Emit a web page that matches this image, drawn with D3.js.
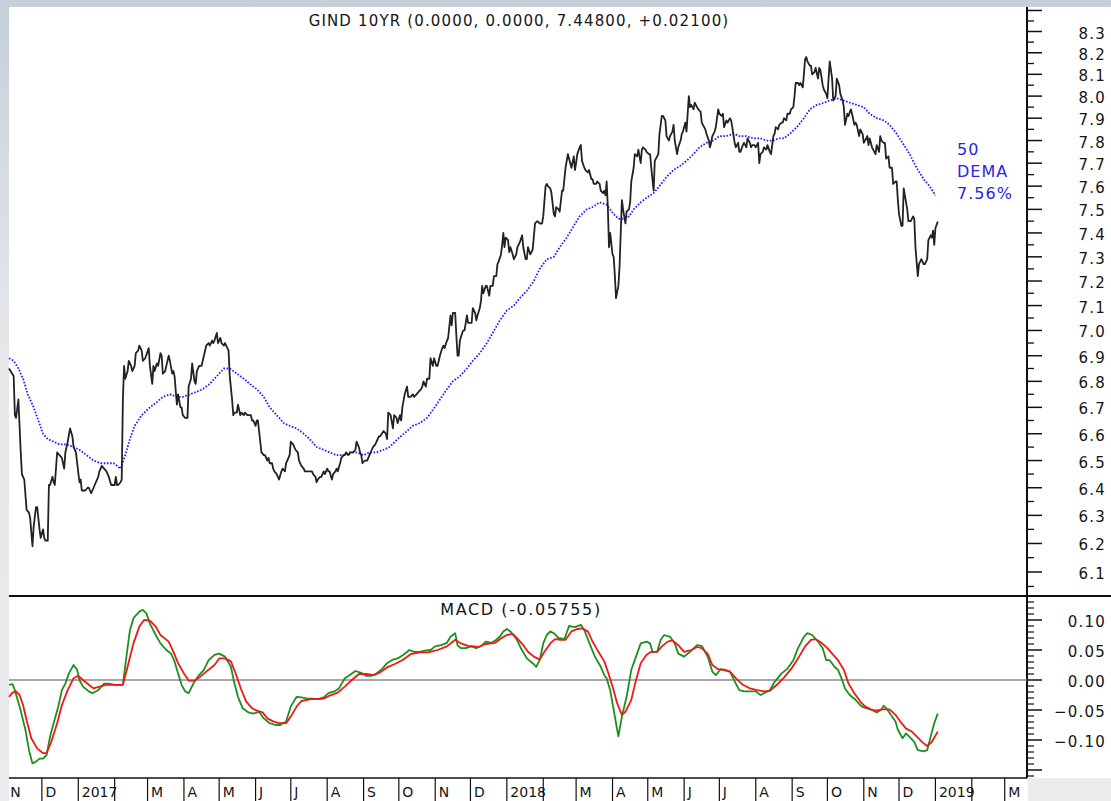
<!DOCTYPE html>
<html><head><meta charset="utf-8">
<script src="https://cdn.jsdelivr.net/npm/d3@7"></script>
<style>body{margin:0;background:#fff;}svg{display:block;}text{font-family:"DejaVu Sans",sans-serif;}</style>
</head><body><svg id="c" width="1111" height="801"></svg>
<script>
const priceData = [
["2016-11-03",6.85],["2016-11-07",6.82],["2016-11-08",6.67],["2016-11-09",6.66],["2016-11-11",6.73],["2016-11-13",6.53],["2016-11-14",6.45],["2016-11-16",6.43],["2016-11-18",6.32],["2016-11-20",6.31],["2016-11-21",6.29],["2016-11-23",6.19],["2016-11-24",6.26],["2016-11-26",6.33],["2016-11-27",6.33],["2016-11-29",6.25],["2016-11-30",6.22],["2016-12-02",6.25],["2016-12-03",6.22],["2016-12-04",6.21],["2016-12-06",6.21],["2016-12-07",6.41],["2016-12-08",6.41],["2016-12-10",6.44],["2016-12-11",6.42],["2016-12-12",6.41],["2016-12-14",6.53],["2016-12-16",6.52],["2016-12-18",6.51],["2016-12-20",6.47],["2016-12-21",6.53],["2016-12-23",6.57],["2016-12-25",6.62],["2016-12-27",6.59],["2016-12-28",6.55],["2016-12-30",6.53],
["2017-01-02",6.42],["2017-01-03",6.43],["2017-01-04",6.39],["2017-01-07",6.39],["2017-01-09",6.40],["2017-01-10",6.40],["2017-01-12",6.38],["2017-01-14",6.40],["2017-01-16",6.42],["2017-01-18",6.44],["2017-01-19",6.46],["2017-01-21",6.48],["2017-01-23",6.47],["2017-01-25",6.46],["2017-01-27",6.44],["2017-01-29",6.41],["2017-01-30",6.41],["2017-02-01",6.41],["2017-02-02",6.44],["2017-02-03",6.41],["2017-02-04",6.41],["2017-02-06",6.42],["2017-02-07",6.43],["2017-02-08",6.73],["2017-02-09",6.86],["2017-02-10",6.81],["2017-02-12",6.84],["2017-02-13",6.88],["2017-02-15",6.86],["2017-02-16",6.84],["2017-02-18",6.86],["2017-02-19",6.91],["2017-02-21",6.92],["2017-02-22",6.94],["2017-02-24",6.92],["2017-02-25",6.88],["2017-02-27",6.89],
["2017-03-02",6.93],["2017-03-03",6.86],["2017-03-05",6.79],["2017-03-06",6.86],["2017-03-07",6.84],["2017-03-09",6.87],["2017-03-10",6.86],["2017-03-12",6.91],["2017-03-13",6.90],["2017-03-14",6.83],["2017-03-16",6.84],["2017-03-17",6.86],["2017-03-19",6.90],["2017-03-20",6.88],["2017-03-22",6.83],["2017-03-23",6.84],["2017-03-24",6.82],["2017-03-26",6.71],["2017-03-27",6.75],["2017-03-29",6.70],["2017-03-30",6.70],["2017-03-31",6.67],
["2017-04-02",6.66],["2017-04-04",6.66],["2017-04-05",6.78],["2017-04-07",6.81],["2017-04-08",6.87],["2017-04-10",6.80],["2017-04-11",6.79],["2017-04-12",6.84],["2017-04-14",6.86],["2017-04-16",6.86],["2017-04-17",6.88],["2017-04-19",6.92],["2017-04-20",6.94],["2017-04-22",6.95],["2017-04-23",6.94],["2017-04-25",6.96],["2017-04-26",6.95],["2017-04-27",6.96],["2017-04-29",6.99],["2017-04-30",6.95],
["2017-05-02",6.97],["2017-05-03",6.95],["2017-05-05",6.94],["2017-05-06",6.95],["2017-05-07",6.94],["2017-05-09",6.92],["2017-05-10",6.82],["2017-05-12",6.73],["2017-05-13",6.67],["2017-05-14",6.68],["2017-05-16",6.68],["2017-05-17",6.71],["2017-05-19",6.67],["2017-05-20",6.68],["2017-05-22",6.67],["2017-05-23",6.68],["2017-05-25",6.67],["2017-05-26",6.67],["2017-05-28",6.67],["2017-05-29",6.65],["2017-05-30",6.65],
["2017-06-01",6.63],["2017-06-02",6.65],["2017-06-03",6.65],["2017-06-05",6.57],["2017-06-06",6.53],["2017-06-08",6.52],["2017-06-09",6.52],["2017-06-11",6.50],["2017-06-12",6.51],["2017-06-13",6.49],["2017-06-15",6.49],["2017-06-16",6.47],["2017-06-17",6.46],["2017-06-19",6.45],["2017-06-20",6.44],["2017-06-21",6.43],["2017-06-23",6.46],["2017-06-24",6.47],["2017-06-26",6.46],["2017-06-27",6.49],["2017-06-28",6.50],["2017-06-30",6.52],
["2017-07-01",6.57],["2017-07-03",6.56],["2017-07-04",6.55],["2017-07-05",6.54],["2017-07-07",6.53],["2017-07-08",6.50],["2017-07-09",6.49],["2017-07-10",6.48],["2017-07-12",6.47],["2017-07-13",6.46],["2017-07-15",6.46],["2017-07-16",6.46],["2017-07-17",6.46],["2017-07-19",6.46],["2017-07-20",6.45],["2017-07-22",6.44],["2017-07-23",6.42],["2017-07-24",6.43],["2017-07-26",6.44],["2017-07-27",6.44],["2017-07-29",6.46],["2017-07-30",6.45],
["2017-08-01",6.47],["2017-08-02",6.46],["2017-08-03",6.46],["2017-08-05",6.43],["2017-08-06",6.45],["2017-08-08",6.46],["2017-08-09",6.47],["2017-08-10",6.46],["2017-08-12",6.49],["2017-08-13",6.51],["2017-08-15",6.52],["2017-08-16",6.52],["2017-08-17",6.53],["2017-08-19",6.52],["2017-08-21",6.53],["2017-08-22",6.53],["2017-08-23",6.53],["2017-08-25",6.54],["2017-08-26",6.57],["2017-08-28",6.55],["2017-08-29",6.53],["2017-08-30",6.52],["2017-08-31",6.49],
["2017-09-02",6.50],["2017-09-04",6.50],["2017-09-05",6.51],["2017-09-06",6.52],["2017-09-08",6.54],["2017-09-09",6.55],["2017-09-11",6.56],["2017-09-12",6.57],["2017-09-14",6.59],["2017-09-15",6.59],["2017-09-18",6.61],["2017-09-20",6.60],["2017-09-21",6.58],["2017-09-22",6.68],["2017-09-24",6.67],["2017-09-26",6.62],["2017-09-27",6.67],["2017-09-29",6.66],["2017-09-30",6.64],
["2017-10-02",6.67],["2017-10-03",6.65],["2017-10-04",6.70],["2017-10-06",6.75],["2017-10-08",6.78],["2017-10-09",6.74],["2017-10-11",6.74],["2017-10-13",6.75],["2017-10-14",6.74],["2017-10-16",6.75],["2017-10-18",6.76],["2017-10-20",6.77],["2017-10-21",6.78],["2017-10-22",6.80],["2017-10-24",6.78],["2017-10-25",6.81],["2017-10-27",6.81],["2017-10-28",6.89],["2017-10-30",6.86],["2017-10-31",6.89],
["2017-11-02",6.86],["2017-11-03",6.86],["2017-11-05",6.90],["2017-11-07",6.93],["2017-11-08",6.94],["2017-11-09",6.93],["2017-11-11",6.96],["2017-11-12",6.97],["2017-11-14",7.06],["2017-11-15",7.02],["2017-11-16",7.07],["2017-11-18",7.07],["2017-11-19",6.98],["2017-11-20",6.90],["2017-11-21",6.90],["2017-11-22",6.96],["2017-11-24",6.99],["2017-11-25",7.00],["2017-11-26",7.00],["2017-11-27",7.03],["2017-11-28",7.06],["2017-11-29",7.03],["2017-11-30",7.03],
["2017-12-02",7.03],["2017-12-03",7.09],["2017-12-05",7.07],["2017-12-06",7.04],["2017-12-07",7.06],["2017-12-09",7.09],["2017-12-10",7.12],["2017-12-11",7.18],["2017-12-12",7.15],["2017-12-14",7.18],["2017-12-15",7.18],["2017-12-17",7.14],["2017-12-18",7.18],["2017-12-20",7.18],["2017-12-21",7.22],["2017-12-23",7.22],["2017-12-24",7.27],["2017-12-25",7.28],["2017-12-27",7.31],["2017-12-28",7.35],["2017-12-29",7.40],["2017-12-30",7.34],["2017-12-31",7.38],
["2018-01-02",7.37],["2018-01-03",7.32],["2018-01-04",7.34],["2018-01-06",7.31],["2018-01-07",7.29],["2018-01-09",7.31],["2018-01-10",7.34],["2018-01-12",7.36],["2018-01-14",7.39],["2018-01-15",7.34],["2018-01-17",7.29],["2018-01-18",7.29],["2018-01-19",7.34],["2018-01-21",7.31],["2018-01-23",7.33],["2018-01-25",7.44],["2018-01-27",7.45],["2018-01-29",7.44],["2018-01-31",7.44],
["2018-02-01",7.47],["2018-02-03",7.60],["2018-02-04",7.61],["2018-02-05",7.60],["2018-02-07",7.59],["2018-02-08",7.57],["2018-02-10",7.48],["2018-02-11",7.47],["2018-02-12",7.51],["2018-02-14",7.50],["2018-02-15",7.49],["2018-02-17",7.58],["2018-02-18",7.58],["2018-02-20",7.68],["2018-02-21",7.71],["2018-02-22",7.74],["2018-02-24",7.70],["2018-02-25",7.68],["2018-02-27",7.73],["2018-02-28",7.67],
["2018-03-01",7.70],["2018-03-02",7.74],["2018-03-04",7.77],["2018-03-05",7.78],["2018-03-06",7.71],["2018-03-08",7.68],["2018-03-09",7.67],["2018-03-11",7.66],["2018-03-12",7.67],["2018-03-14",7.63],["2018-03-15",7.63],["2018-03-16",7.61],["2018-03-18",7.61],["2018-03-19",7.62],["2018-03-21",7.61],["2018-03-22",7.58],["2018-03-24",7.57],["2018-03-25",7.58],["2018-03-26",7.56],["2018-03-27",7.62],["2018-03-28",7.51],["2018-03-29",7.34],["2018-03-30",7.40],
["2018-04-01",7.31],["2018-04-02",7.30],["2018-04-03",7.22],["2018-04-04",7.13],["2018-04-06",7.18],["2018-04-07",7.26],["2018-04-08",7.40],["2018-04-09",7.54],["2018-04-10",7.50],["2018-04-12",7.44],["2018-04-13",7.49],["2018-04-15",7.50],["2018-04-16",7.53],["2018-04-17",7.62],["2018-04-19",7.68],["2018-04-20",7.74],["2018-04-22",7.73],["2018-04-23",7.76],["2018-04-25",7.70],["2018-04-26",7.76],["2018-04-27",7.77],["2018-04-29",7.76],["2018-04-30",7.75],
["2018-05-02",7.74],["2018-05-03",7.74],["2018-05-04",7.68],["2018-05-06",7.58],["2018-05-07",7.71],["2018-05-09",7.73],["2018-05-10",7.74],["2018-05-11",7.83],["2018-05-13",7.91],["2018-05-14",7.91],["2018-05-16",7.89],["2018-05-17",7.82],["2018-05-19",7.80],["2018-05-20",7.82],["2018-05-22",7.84],["2018-05-23",7.87],["2018-05-24",7.80],["2018-05-26",7.74],["2018-05-27",7.77],["2018-05-29",7.80],["2018-05-30",7.83],["2018-05-31",7.84],
["2018-06-02",7.88],["2018-06-03",7.84],["2018-06-05",8.00],["2018-06-06",7.95],["2018-06-07",7.96],["2018-06-09",7.94],["2018-06-10",7.97],["2018-06-12",7.95],["2018-06-13",7.94],["2018-06-15",7.93],["2018-06-16",7.88],["2018-06-17",7.87],["2018-06-19",7.85],["2018-06-20",7.83],["2018-06-22",7.80],["2018-06-23",7.77],["2018-06-24",7.79],["2018-06-25",7.82],["2018-06-27",7.84],["2018-06-28",7.86],["2018-06-30",7.94],
["2018-07-01",7.92],["2018-07-03",7.91],["2018-07-04",7.92],["2018-07-05",7.86],["2018-07-07",7.89],["2018-07-08",7.88],["2018-07-10",7.90],["2018-07-11",7.89],["2018-07-12",7.86],["2018-07-14",7.79],["2018-07-15",7.77],["2018-07-17",7.79],["2018-07-18",7.75],["2018-07-19",7.75],["2018-07-21",7.78],["2018-07-22",7.79],["2018-07-24",7.77],["2018-07-25",7.81],["2018-07-27",7.79],["2018-07-28",7.77],["2018-07-29",7.78],["2018-07-31",7.78],
["2018-08-01",7.77],["2018-08-03",7.79],["2018-08-04",7.70],["2018-08-05",7.74],["2018-08-07",7.75],["2018-08-08",7.77],["2018-08-10",7.76],["2018-08-11",7.78],["2018-08-13",7.75],["2018-08-14",7.74],["2018-08-16",7.82],["2018-08-17",7.83],["2018-08-18",7.86],["2018-08-20",7.85],["2018-08-21",7.87],["2018-08-23",7.88],["2018-08-24",7.88],["2018-08-25",7.90],["2018-08-27",7.89],["2018-08-28",7.92],["2018-08-30",7.92],["2018-08-31",7.94],
["2018-09-02",7.95],["2018-09-03",8.00],["2018-09-04",8.06],["2018-09-06",8.06],["2018-09-07",8.05],["2018-09-08",8.06],["2018-09-10",8.04],["2018-09-11",8.10],["2018-09-12",8.17],["2018-09-13",8.18],["2018-09-14",8.16],["2018-09-16",8.14],["2018-09-17",8.14],["2018-09-18",8.10],["2018-09-20",8.11],["2018-09-21",8.13],["2018-09-23",8.08],["2018-09-24",8.13],["2018-09-25",8.12],["2018-09-27",8.05],["2018-09-28",8.03],["2018-09-30",8.01],
["2018-10-01",7.99],["2018-10-02",8.08],["2018-10-03",8.16],["2018-10-05",8.08],["2018-10-06",7.98],["2018-10-08",8.00],["2018-10-09",8.08],["2018-10-11",8.05],["2018-10-12",8.01],["2018-10-14",7.98],["2018-10-15",7.95],["2018-10-16",7.87],["2018-10-18",7.92],["2018-10-19",7.91],["2018-10-21",7.94],["2018-10-22",7.92],["2018-10-24",7.87],["2018-10-25",7.88],["2018-10-26",7.87],["2018-10-28",7.82],["2018-10-29",7.85],["2018-10-31",7.83],
["2018-11-01",7.79],["2018-11-02",7.80],["2018-11-04",7.82],["2018-11-05",7.78],["2018-11-06",7.81],["2018-11-08",7.77],["2018-11-09",7.76],["2018-11-11",7.74],["2018-11-12",7.78],["2018-11-14",7.75],["2018-11-15",7.82],["2018-11-16",7.80],["2018-11-18",7.79],["2018-11-19",7.79],["2018-11-20",7.72],["2018-11-22",7.73],["2018-11-23",7.68],["2018-11-25",7.68],["2018-11-26",7.61],["2018-11-28",7.62],["2018-11-29",7.62],["2018-11-30",7.54],
["2018-12-01",7.48],["2018-12-03",7.43],["2018-12-04",7.43],["2018-12-05",7.59],["2018-12-06",7.56],["2018-12-08",7.50],["2018-12-09",7.45],["2018-12-10",7.45],["2018-12-11",7.45],["2018-12-13",7.47],["2018-12-14",7.46],["2018-12-15",7.34],["2018-12-17",7.22],["2018-12-18",7.27],["2018-12-19",7.28],["2018-12-20",7.29],["2018-12-22",7.27],["2018-12-23",7.27],["2018-12-25",7.29],["2018-12-26",7.37],["2018-12-28",7.39],["2018-12-29",7.38],["2018-12-30",7.41],["2018-12-31",7.35],
["2019-01-01",7.42],["2019-01-03",7.448]
];
const demaData = [
["2016-11-03",6.89],["2016-11-07",6.88],["2016-11-11",6.85],["2016-11-15",6.81],["2016-11-19",6.75],["2016-11-24",6.70],["2016-11-28",6.65],["2016-12-02",6.60],["2016-12-06",6.58],["2016-12-11",6.57],["2016-12-16",6.56],["2016-12-22",6.56],["2016-12-28",6.55],["2017-01-02",6.54],["2017-01-08",6.52],["2017-01-14",6.50],["2017-01-20",6.49],["2017-01-25",6.49],["2017-01-31",6.49],["2017-02-06",6.47],["2017-02-10",6.52],["2017-02-14",6.58],["2017-02-18",6.63],["2017-02-24",6.67],["2017-03-03",6.70],["2017-03-09",6.72],["2017-03-14",6.74],["2017-03-20",6.75],["2017-03-26",6.74],["2017-03-31",6.74],["2017-04-06",6.75],["2017-04-12",6.76],["2017-04-17",6.77],["2017-04-23",6.79],["2017-04-29",6.82],["2017-05-05",6.85],["2017-05-10",6.85],["2017-05-16",6.83],["2017-05-22",6.81],["2017-05-27",6.79],["2017-06-02",6.77],["2017-06-08",6.74],["2017-06-13",6.70],["2017-06-19",6.67],["2017-06-25",6.64],["2017-06-30",6.63],["2017-07-06",6.62],["2017-07-12",6.60],["2017-07-17",6.58],["2017-07-23",6.55],["2017-07-29",6.54],["2017-08-03",6.53],["2017-08-09",6.52],["2017-08-15",6.52],["2017-08-20",6.53],["2017-08-26",6.53],["2017-09-01",6.52],["2017-09-06",6.53],["2017-09-12",6.53],["2017-09-18",6.54],["2017-09-23",6.55],["2017-09-30",6.58],["2017-10-08",6.61],["2017-10-13",6.63],["2017-10-19",6.64],["2017-10-25",6.66],["2017-10-30",6.69],["2017-11-05",6.73],["2017-11-11",6.77],["2017-11-16",6.80],["2017-11-22",6.82],["2017-11-28",6.85],["2017-12-03",6.88],["2017-12-09",6.91],["2017-12-15",6.95],["2017-12-20",6.99],["2017-12-26",7.04],["2018-01-01",7.08],["2018-01-07",7.10],["2018-01-12",7.13],["2018-01-18",7.16],["2018-01-24",7.20],["2018-01-29",7.25],["2018-02-04",7.29],["2018-02-10",7.30],["2018-02-15",7.34],["2018-02-21",7.38],["2018-02-27",7.43],["2018-03-04",7.47],["2018-03-10",7.50],["2018-03-15",7.51],["2018-03-21",7.53],["2018-03-27",7.52],["2018-03-30",7.50],["2018-04-02",7.48],["2018-04-06",7.46],["2018-04-10",7.46],["2018-04-15",7.47],["2018-04-19",7.50],["2018-04-25",7.53],["2018-04-30",7.55],["2018-05-06",7.57],["2018-05-11",7.60],["2018-05-17",7.64],["2018-05-23",7.67],["2018-05-29",7.69],["2018-06-03",7.71],["2018-06-09",7.74],["2018-06-14",7.77],["2018-06-20",7.79],["2018-06-26",7.80],["2018-07-01",7.82],["2018-07-07",7.82],["2018-07-13",7.83],["2018-07-18",7.82],["2018-07-24",7.82],["2018-07-30",7.81],["2018-08-05",7.81],["2018-08-10",7.80],["2018-08-16",7.80],["2018-08-21",7.81],["2018-08-25",7.81],["2018-08-30",7.83],["2018-09-05",7.86],["2018-09-11",7.90],["2018-09-16",7.94],["2018-09-22",7.96],["2018-09-28",7.97],["2018-10-03",7.98],["2018-10-09",7.99],["2018-10-15",7.98],["2018-10-20",7.97],["2018-10-26",7.96],["2018-11-01",7.95],["2018-11-06",7.92],["2018-11-12",7.90],["2018-11-18",7.89],["2018-11-23",7.87],["2018-11-29",7.83],["2018-12-04",7.79],["2018-12-10",7.74],["2018-12-16",7.68],["2018-12-22",7.63],["2018-12-27",7.60],["2019-01-01",7.56]
];
const macdData = [
["2016-11-03",-0.008],["2016-11-06",-0.007],["2016-11-08",-0.017],["2016-11-12",-0.044],["2016-11-17",-0.083],["2016-11-20",-0.117],["2016-11-23",-0.139],["2016-11-26",-0.136],["2016-11-29",-0.131],["2016-12-02",-0.131],["2016-12-05",-0.125],["2016-12-08",-0.094],["2016-12-11",-0.072],["2016-12-15",-0.044],["2016-12-18",-0.017],["2016-12-21",-0.006],["2016-12-24",0.011],["2016-12-28",0.025],["2016-12-31",0.017],["2017-01-02",0],["2017-01-05",-0.011],["2017-01-10",-0.019],["2017-01-13",-0.022],["2017-01-18",-0.017],["2017-01-23",-0.006],["2017-01-27",-0.006],["2017-02-01",-0.008],["2017-02-08",-0.008],["2017-02-11",0.039],["2017-02-14",0.083],["2017-02-17",0.103],["2017-02-22",0.114],["2017-02-25",0.117],["2017-02-28",0.111],["2017-03-03",0.094],["2017-03-08",0.075],["2017-03-12",0.061],["2017-03-17",0.05],["2017-03-21",0.044],["2017-03-24",0.031],["2017-03-27",0.011],["2017-03-30",-0.008],["2017-04-02",-0.019],["2017-04-05",-0.022],["2017-04-09",-0.006],["2017-04-13",0.006],["2017-04-18",0.017],["2017-04-22",0.033],["2017-04-27",0.042],["2017-05-01",0.044],["2017-05-06",0.039],["2017-05-11",0.022],["2017-05-14",-0.006],["2017-05-17",-0.028],["2017-05-21",-0.047],["2017-05-26",-0.054],["2017-05-30",-0.056],["2017-06-04",-0.053],["2017-06-08",-0.064],["2017-06-13",-0.072],["2017-06-18",-0.075],["2017-06-22",-0.075],["2017-06-27",-0.069],["2017-07-01",-0.044],["2017-07-06",-0.028],["2017-07-10",-0.029],["2017-07-15",-0.031],["2017-07-19",-0.031],["2017-07-24",-0.032],["2017-07-29",-0.029],["2017-08-02",-0.022],["2017-08-07",-0.019],["2017-08-11",-0.014],["2017-08-16",0.003],["2017-08-20",0.008],["2017-08-25",0.015],["2017-08-30",0.012],["2017-09-03",0.007],["2017-09-08",0.007],["2017-09-12",0.011],["2017-09-17",0.019],["2017-09-21",0.028],["2017-09-26",0.034],["2017-09-30",0.036],["2017-10-05",0.042],["2017-10-10",0.05],["2017-10-14",0.047],["2017-10-19",0.047],["2017-10-23",0.049],["2017-10-28",0.05],["2017-11-01",0.056],["2017-11-06",0.058],["2017-11-11",0.062],["2017-11-14",0.072],["2017-11-18",0.078],["2017-11-20",0.058],["2017-11-23",0.053],["2017-11-27",0.053],["2017-12-02",0.056],["2017-12-06",0.053],["2017-12-11",0.058],["2017-12-14",0.064],["2017-12-19",0.062],["2017-12-23",0.067],["2017-12-26",0.072],["2017-12-29",0.081],["2018-01-01",0.085],["2018-01-04",0.081],["2018-01-09",0.069],["2018-01-13",0.053],["2018-01-18",0.036],["2018-01-23",0.028],["2018-01-26",0.022],["2018-01-29",0.033],["2018-02-01",0.061],["2018-02-04",0.075],["2018-02-07",0.081],["2018-02-10",0.078],["2018-02-14",0.07],["2018-02-19",0.068],["2018-02-23",0.09],["2018-02-28",0.088],["2018-03-05",0.092],["2018-03-08",0.083],["2018-03-13",0.058],["2018-03-17",0.039],["2018-03-22",0.022],["2018-03-25",0.008],["2018-03-27",0.003],["2018-03-30",-0.017],["2018-04-02",-0.05],["2018-04-05",-0.083],["2018-04-06",-0.094],["2018-04-09",-0.061],["2018-04-13",-0.028],["2018-04-17",0.017],["2018-04-21",0.039],["2018-04-25",0.061],["2018-04-30",0.064],["2018-05-03",0.061],["2018-05-05",0.047],["2018-05-09",0.047],["2018-05-12",0.067],["2018-05-15",0.075],["2018-05-20",0.072],["2018-05-24",0.061],["2018-05-27",0.044],["2018-06-01",0.039],["2018-06-06",0.047],["2018-06-12",0.058],["2018-06-16",0.057],["2018-06-21",0.039],["2018-06-25",0.014],["2018-06-28",0.008],["2018-07-02",0.018],["2018-07-06",0.017],["2018-07-10",0.014],["2018-07-15",-0.006],["2018-07-18",-0.017],["2018-07-22",-0.019],["2018-07-27",-0.019],["2018-08-01",-0.019],["2018-08-05",-0.025],["2018-08-08",-0.022],["2018-08-13",-0.017],["2018-08-17",-0.003],["2018-08-23",0.011],["2018-08-28",0.019],["2018-09-02",0.033],["2018-09-06",0.053],["2018-09-11",0.072],["2018-09-14",0.078],["2018-09-18",0.075],["2018-09-23",0.064],["2018-09-27",0.053],["2018-09-30",0.033],["2018-10-03",0.033],["2018-10-07",0.022],["2018-10-10",0.017],["2018-10-13",0.003],["2018-10-16",-0.014],["2018-10-20",-0.025],["2018-10-25",-0.033],["2018-10-30",-0.044],["2018-11-03",-0.047],["2018-11-08",-0.05],["2018-11-12",-0.054],["2018-11-16",-0.049],["2018-11-18",-0.043],["2018-11-21",-0.049],["2018-11-24",-0.058],["2018-11-28",-0.069],["2018-11-30",-0.083],["2018-12-04",-0.097],["2018-12-07",-0.089],["2018-12-11",-0.097],["2018-12-14",-0.103],["2018-12-17",-0.117],["2018-12-22",-0.119],["2018-12-25",-0.117],["2018-12-28",-0.094],["2018-12-31",-0.072],["2019-01-03",-0.056]
];
const signalData = [
["2016-11-03",-0.028],["2016-11-06",-0.021],["2016-11-09",-0.019],["2016-11-12",-0.025],["2016-11-15",-0.042],["2016-11-18",-0.067],["2016-11-22",-0.097],["2016-11-27",-0.114],["2016-12-02",-0.122],["2016-12-05",-0.122],["2016-12-09",-0.103],["2016-12-14",-0.072],["2016-12-18",-0.042],["2016-12-23",-0.017],["2016-12-28",0.003],["2017-01-01",0.007],["2017-01-05",0],["2017-01-10",-0.008],["2017-01-14",-0.014],["2017-01-19",-0.011],["2017-01-25",-0.008],["2017-02-01",-0.008],["2017-02-08",-0.008],["2017-02-12",0.022],["2017-02-17",0.061],["2017-02-22",0.089],["2017-02-26",0.1],["2017-03-03",0.099],["2017-03-08",0.089],["2017-03-12",0.075],["2017-03-19",0.064],["2017-03-23",0.047],["2017-03-27",0.028],["2017-04-01",0.011],["2017-04-05",-0.001],["2017-04-10",-0.001],["2017-04-14",0.004],["2017-04-20",0.014],["2017-04-27",0.025],["2017-05-01",0.036],["2017-05-06",0.036],["2017-05-11",0.031],["2017-05-15",0.011],["2017-05-20",-0.017],["2017-05-24",-0.036],["2017-05-29",-0.047],["2017-06-02",-0.051],["2017-06-07",-0.054],["2017-06-11",-0.064],["2017-06-16",-0.069],["2017-06-21",-0.072],["2017-06-27",-0.072],["2017-07-01",-0.061],["2017-07-06",-0.044],["2017-07-10",-0.035],["2017-07-18",-0.032],["2017-07-24",-0.032],["2017-07-29",-0.031],["2017-08-02",-0.027],["2017-08-10",-0.021],["2017-08-16",-0.011],["2017-08-22",0],["2017-08-28",0.01],["2017-09-03",0.01],["2017-09-10",0.008],["2017-09-16",0.014],["2017-09-21",0.021],["2017-09-28",0.027],["2017-10-04",0.033],["2017-10-11",0.043],["2017-10-19",0.046],["2017-10-26",0.046],["2017-11-03",0.05],["2017-11-11",0.056],["2017-11-18",0.067],["2017-11-23",0.061],["2017-11-29",0.057],["2017-12-08",0.055],["2017-12-14",0.06],["2017-12-22",0.062],["2017-12-27",0.069],["2018-01-01",0.075],["2018-01-06",0.077],["2018-01-10",0.069],["2018-01-15",0.058],["2018-01-19",0.047],["2018-01-24",0.039],["2018-01-29",0.034],["2018-02-02",0.047],["2018-02-07",0.061],["2018-02-11",0.068],["2018-02-16",0.067],["2018-02-20",0.067],["2018-02-25",0.081],["2018-03-02",0.085],["2018-03-06",0.086],["2018-03-11",0.081],["2018-03-15",0.064],["2018-03-20",0.047],["2018-03-25",0.031],["2018-03-28",0.014],["2018-04-01",-0.011],["2018-04-05",-0.039],["2018-04-09",-0.058],["2018-04-12",-0.053],["2018-04-17",-0.033],["2018-04-21",0],["2018-04-25",0.028],["2018-04-30",0.042],["2018-05-04",0.047],["2018-05-09",0.047],["2018-05-13",0.056],["2018-05-18",0.064],["2018-05-22",0.066],["2018-05-27",0.058],["2018-06-01",0.047],["2018-06-07",0.05],["2018-06-12",0.055],["2018-06-16",0.053],["2018-06-21",0.044],["2018-06-25",0.025],["2018-06-30",0.018],["2018-07-04",0.017],["2018-07-10",0.014],["2018-07-15",0.003],["2018-07-21",-0.008],["2018-07-27",-0.014],["2018-08-02",-0.017],["2018-08-08",-0.019],["2018-08-13",-0.018],["2018-08-19",-0.008],["2018-08-25",0.004],["2018-08-31",0.018],["2018-09-06",0.036],["2018-09-12",0.056],["2018-09-17",0.067],["2018-09-21",0.068],["2018-09-26",0.062],["2018-10-01",0.053],["2018-10-05",0.044],["2018-10-10",0.033],["2018-10-15",0.017],["2018-10-19",-0.006],["2018-10-24",-0.022],["2018-10-29",-0.036],["2018-11-02",-0.044],["2018-11-07",-0.049],["2018-11-11",-0.051],["2018-11-17",-0.049],["2018-11-23",-0.049],["2018-11-28",-0.058],["2018-12-02",-0.069],["2018-12-07",-0.081],["2018-12-12",-0.086],["2018-12-16",-0.094],["2018-12-21",-0.104],["2018-12-25",-0.11],["2018-12-29",-0.103],["2019-01-03",-0.086]
];
const priceTicks = [6.1,6.2,6.3,6.4,6.5,6.6,6.7,6.8,6.9,7.0,7.1,7.2,7.3,7.4,7.5,7.6,7.7,7.8,7.9,8.0,8.1,8.2,8.3];
const macdTicks = [-0.10,-0.05,0.00,0.05,0.10];
const monthLabels = ["N","D","2017","","M","A","M","J","J","A","S","O","N","D","2018","","M","A","M","J","J","A","S","O","N","D","2019","","M"];
const titleText = "GIND 10YR (0.0000, 0.0000, 7.44800, +0.02100)";
const macdTitle = "MACD (-0.05755)";
const demaLabel = ["50","DEMA","7.56%"];

const parse = d3.timeParse("%Y-%m-%d");
const W = 1111, H = 801, L = 9, R = 1027, T = 7, SEP = 596, XB = 778;
const svg = d3.select("#c");

const x = d3.scaleTime().domain([parse("2016-11-03"), parse("2019-03-20")]).range([L, R]);
const y = d3.scaleLog().domain([6.1, 8.3]).range([572, 31.5]);
const ym = d3.scaleLinear().domain([-0.1, 0.1]).range([740, 620]);

// background
const defs = svg.append("defs");
const g1 = defs.append("linearGradient").attr("id","bg").attr("x1",0).attr("y1",0).attr("x2",0).attr("y2",1);
g1.append("stop").attr("offset","0%").attr("stop-color","#c4cfd9");
g1.append("stop").attr("offset","40%").attr("stop-color","#e4e6ea");
g1.append("stop").attr("offset","100%").attr("stop-color","#ebebee");
svg.append("rect").attr("width",W).attr("height",H).attr("fill","url(#bg)");
svg.append("rect").attr("x",L).attr("y",T).attr("width",W-L).attr("height",H-T).attr("fill","#fff");
svg.append("rect").attr("x",R+1).attr("y",XB).attr("width",W-R-1).attr("height",H-XB).attr("fill","#ebebeb");

// frame lines
svg.append("line").attr("x1",L).attr("x2",W).attr("y1",SEP).attr("y2",SEP).attr("stroke","#111").attr("stroke-width",2);
svg.append("line").attr("x1",L).attr("x2",R).attr("y1",XB).attr("y2",XB).attr("stroke","#111").attr("stroke-width",1.5);
svg.append("line").attr("x1",R).attr("x2",R).attr("y1",T).attr("y2",XB).attr("stroke","#111").attr("stroke-width",2);
svg.append("line").attr("x1",L).attr("x2",R).attr("y1",ym(0)).attr("y2",ym(0)).attr("stroke","#8a8a8a").attr("stroke-width",1.5);

// price axis ticks
const pMinor = d3.range(6.05, 8.36, 0.1).map(v => +v.toFixed(2));
const pMajor = priceTicks.concat([8.4]);
svg.append("g").selectAll("line").data(pMajor).join("line")
  .attr("x1",R).attr("x2",R+15).attr("y1",d=>y(d)).attr("y2",d=>y(d)).attr("stroke","#111").attr("stroke-width",1.5);
svg.append("g").selectAll("line").data(pMinor).join("line")
  .attr("x1",R).attr("x2",R+7).attr("y1",d=>y(d)).attr("y2",d=>y(d)).attr("stroke","#111").attr("stroke-width",1.3);
svg.append("g").selectAll("text").data(priceTicks).join("text")
  .attr("x",1106).attr("y",d=>y(d)+2).attr("text-anchor","end").attr("dominant-baseline","central")
  .attr("font-size",15).attr("letter-spacing","1.2px").attr("fill","#151515").text(d=>d.toFixed(1));

// macd axis ticks
const mTicks = d3.range(-16, 14);
svg.append("g").selectAll("line").data(mTicks).join("line")
  .attr("x1",R).attr("x2",d=> d%5===0 ? R+15 : R+7)
  .attr("y1",d=>ym(d/100)).attr("y2",d=>ym(d/100)).attr("stroke","#111").attr("stroke-width",d=>d%5===0?1.5:1.2);
svg.append("g").selectAll("text").data(macdTicks).join("text")
  .attr("x",1106).attr("y",d=>ym(d)+2).attr("text-anchor","end").attr("dominant-baseline","central")
  .attr("font-size",15).attr("letter-spacing","1.2px").attr("fill","#151515").text(d=>d3.format(".2f")(d));

// month axis
const months = d3.timeMonth.range(parse("2016-11-01"), parse("2019-04-01"));
const mg = svg.append("g");
months.forEach((m,i) => {
  const xm = x(m);
  if (xm >= L) mg.append("line").attr("x1",xm).attr("x2",xm).attr("y1",XB).attr("y2",H).attr("stroke","#111").attr("stroke-width",1.2);
  if (monthLabels[i]) mg.append("text").attr("x",Math.max(xm+3.5, L)).attr("y",797).attr("font-size",14).attr("fill","#151515").text(monthLabels[i]);
});

// lines
const lineP = d3.line().x(d=>x(parse(d[0]))).y(d=>y(d[1]));
const lineM = d3.line().x(d=>x(parse(d[0]))).y(d=>ym(d[1]));
svg.append("path").datum(demaData).attr("d",lineP).attr("fill","none").attr("stroke","#1f1fff").attr("stroke-width",1.8).attr("stroke-dasharray","1.6 1.6");
svg.append("path").datum(priceData).attr("d",lineP).attr("fill","none").attr("stroke","#222").attr("stroke-width",1.8).attr("stroke-linejoin","round");
svg.append("path").datum(macdData).attr("d",lineM).attr("fill","none").attr("stroke","#1e8f1e").attr("stroke-width",1.8).attr("stroke-linejoin","round");
svg.append("path").datum(signalData).attr("d",lineM).attr("fill","none").attr("stroke","#f01818").attr("stroke-width",1.8).attr("stroke-linejoin","round");

// texts
svg.append("text").attr("x",519).attr("y",21).attr("text-anchor","middle").attr("dominant-baseline","central")
  .attr("font-size",15).attr("letter-spacing","1.15px").attr("fill","#151515").text(titleText);
svg.append("text").attr("x",521).attr("y",609).attr("text-anchor","middle").attr("dominant-baseline","central")
  .attr("font-size",16).attr("letter-spacing","1.6px").attr("fill","#151515").text(macdTitle);
svg.append("g").selectAll("text").data(demaLabel).join("text")
  .attr("x",957).attr("y",(d,i)=>149 + i*22.3).attr("dominant-baseline","central")
  .attr("font-size",16).attr("letter-spacing","1px").attr("fill","#2626e6").text(d=>d);
</script></body></html>
